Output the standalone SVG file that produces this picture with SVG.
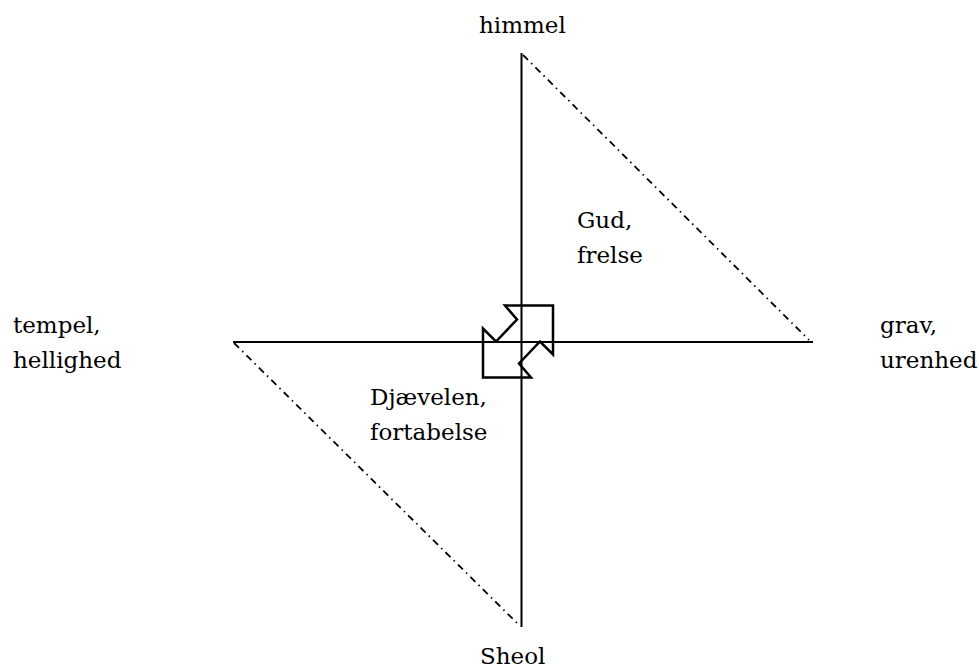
<svg xmlns="http://www.w3.org/2000/svg" width="979" height="670" viewBox="0 0 979 670">
<style>
.t{font-family:"DejaVu Serif","Liberation Serif",serif;font-size:23px;fill:#000}
.ax{stroke:#000;stroke-width:2;fill:none}
.dd{stroke:#000;stroke-width:1.8;fill:none;stroke-dasharray:7 4.5 1.5 4.5}
</style>
<rect width="979" height="670" fill="#fff"/>
<g id="connectors">
<line class="ax" x1="521.5" y1="53" x2="521.5" y2="627"/>
<line class="ax" x1="233" y1="342" x2="813" y2="342"/>
<line class="dd" x1="523" y1="55" x2="809" y2="340"/>
<line class="dd" x1="234" y1="343" x2="520" y2="626"/>
</g>
<g id="center-arrow">
<polygon transform="translate(518,341.5)" points="-13,-36 35,-36 35,13 22,0 1,22 13,36 -35,36 -35,-13 -22,0 -1,-22" fill="none" stroke="#000" stroke-width="2.5" stroke-linejoin="miter"/>
</g>
<g id="himmel"><text class="t" x="479" y="33">himmel</text></g>
<g id="sheol"><text class="t" x="480" y="664">Sheol</text></g>
<g id="tempel"><text class="t" x="13" y="333">tempel,</text><text class="t" x="13" y="368">hellighed</text></g>
<g id="grav"><text class="t" x="880" y="333">grav,</text><text class="t" x="880" y="368">urenhed</text></g>
<g id="gud"><text class="t" x="577" y="228">Gud,</text><text class="t" x="577" y="263">frelse</text></g>
<g id="djaevelen"><text class="t" x="370" y="405">Djævelen,</text><text class="t" x="370" y="440">fortabelse</text></g>
</svg>
